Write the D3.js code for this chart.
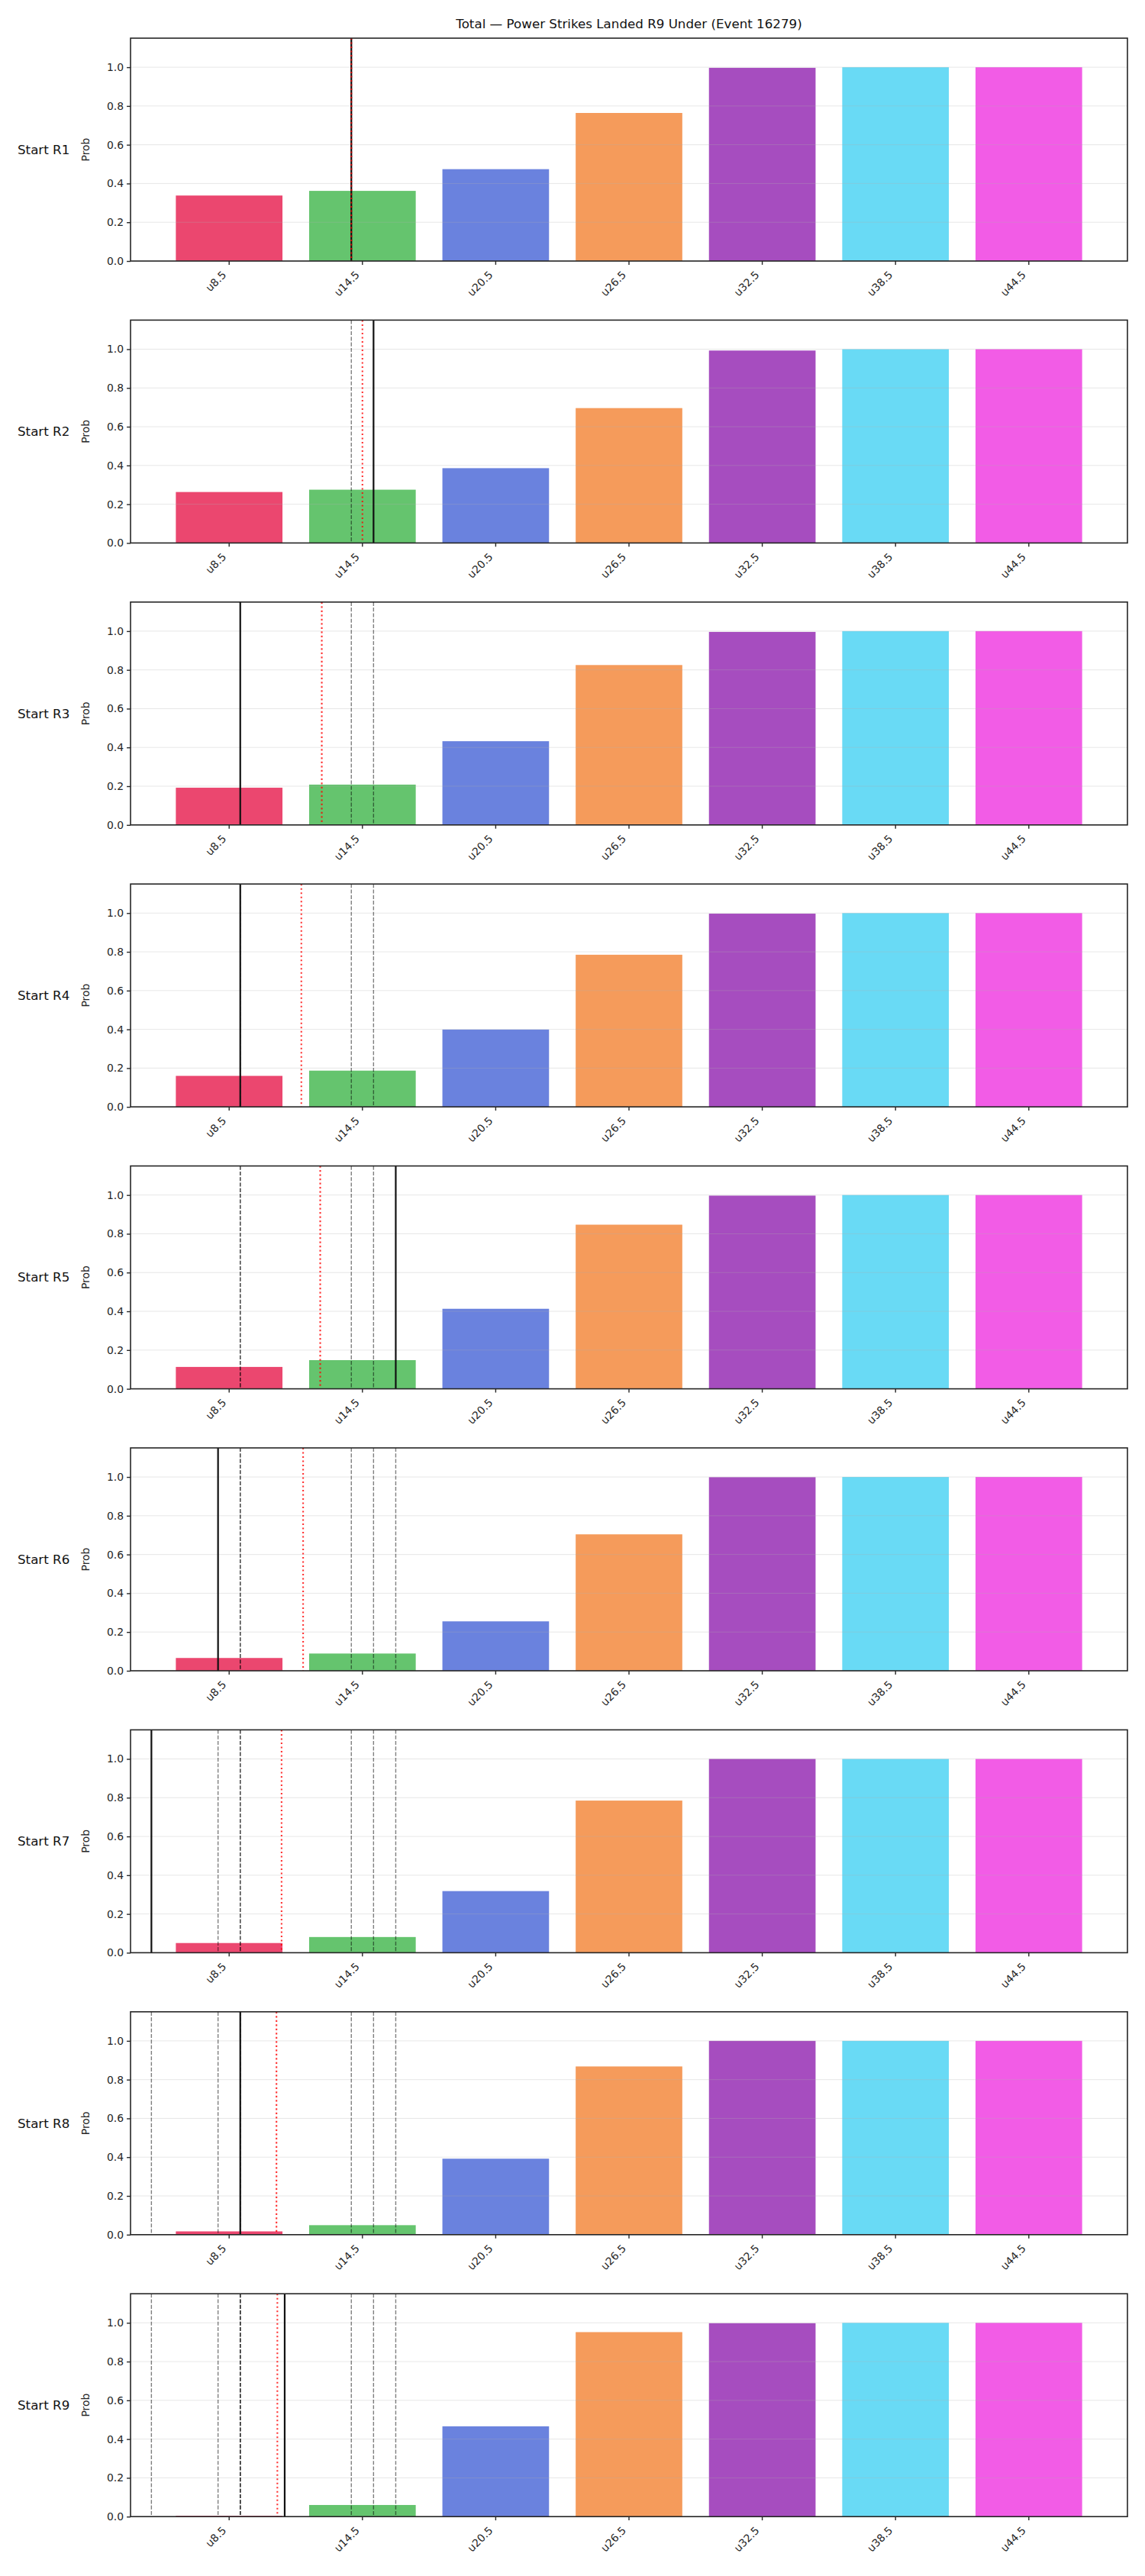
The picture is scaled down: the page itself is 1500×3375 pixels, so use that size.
<!DOCTYPE html>
<html>
<head>
<meta charset="utf-8">
<script src="https://cdn.jsdelivr.net/npm/d3@7"></script>
<style>
  body { margin: 0; background: #fff; }
  svg { display: block; font-family: "DejaVu Sans", sans-serif; }
</style>
</head>
<body>
<div id="chart"></div>
<script>
// chart data
const title = "Total \u2014 Power Strikes Landed R9 Under (Event 16279)";
const categories = ["u8.5", "u14.5", "u20.5", "u26.5", "u32.5", "u38.5", "u44.5"];
const lineValues = [8.5, 14.5, 20.5, 26.5, 32.5, 38.5, 44.5];
const rounds = ["Start R1", "Start R2", "Start R3", "Start R4", "Start R5", "Start R6", "Start R7", "Start R8", "Start R9"];
const yTicks = [0, 0.2, 0.4, 0.6, 0.8, 1.0];

// strikes landed per round (solid black line; earlier rounds show as dashed)
const roundStrikes = [14, 15, 9, 9, 16, 8, 5, 9, 11];
// running average (red dotted line)
const runningAvg = [14, 14.5, 12.67, 11.75, 12.6, 11.83, 10.86, 10.63, 10.67];

// probability for each under line, one row per round
const probR1 = [0.338, 0.362, 0.474, 0.764, 0.997, 1.0, 1.0];
const probR2 = [0.263, 0.275, 0.386, 0.696, 0.993, 1.0, 1.0];
const probR3 = [0.192, 0.208, 0.432, 0.825, 0.996, 1.0, 1.0];
const probR4 = [0.160, 0.187, 0.399, 0.785, 0.997, 1.0, 1.0];
const probR5 = [0.113, 0.148, 0.413, 0.847, 0.997, 1.0, 1.0];
const probR6 = [0.066, 0.089, 0.255, 0.704, 0.999, 1.0, 1.0];
const probR7 = [0.050, 0.081, 0.318, 0.785, 1.0, 1.0, 1.0];
const probR8 = [0.017, 0.049, 0.392, 0.868, 1.0, 1.0, 1.0];
const probR9 = [0.004, 0.060, 0.466, 0.952, 0.998, 1.0, 1.0];
const probs = [probR1, probR2, probR3, probR4, probR5, probR6, probR7, probR8, probR9];

const barColors = ["#eb476f", "#65c46e", "#6a82de", "#f59b5b", "#a64dbf", "#69daf5", "#f25ce6"];

// layout
const width = 1500, height = 3375;
const plotLeft = 171, plotRight = 1477;
const firstTop = 50, panelStep = 369.4, panelH = 292;
const plotW = plotRight - plotLeft;

const svg = d3.select("#chart").append("svg")
  .attr("width", width)
  .attr("height", height);

svg.append("rect").attr("width", width).attr("height", height).attr("fill", "#fff");

svg.append("text")
  .attr("x", plotLeft + plotW / 2)
  .attr("y", 37)
  .attr("text-anchor", "middle")
  .style("font-size", "16.7px")
  .style("fill", "#111")
  .text(title);

const x = d3.scaleBand()
  .domain(categories)
  .range([0, plotW])
  .paddingInner(0.2)
  .paddingOuter(0.34);

// strike counts sit on the same axis as the under lines
const xv = d3.scaleLinear()
  .domain([lineValues[0], lineValues[lineValues.length - 1]])
  .range([x(categories[0]) + x.bandwidth() / 2, x(categories[categories.length - 1]) + x.bandwidth() / 2]);

const y = d3.scaleLinear().domain([0, 1.15]).range([panelH, 0]);

rounds.forEach((label, r) => {
  const g = svg.append("g")
    .attr("class", "panel")
    .attr("transform", `translate(${plotLeft}, ${firstTop + r * panelStep})`);

  // bars
  g.selectAll("rect.bar")
    .data(probs[r])
    .enter()
    .append("rect")
    .attr("class", "bar")
    .attr("x", (d, i) => x(categories[i]))
    .attr("width", x.bandwidth())
    .attr("y", d => y(d))
    .attr("height", d => y(0) - y(d))
    .style("fill", (d, i) => barColors[i]);

  // grid on top, light
  g.selectAll("line.grid")
    .data(yTicks)
    .enter()
    .append("line")
    .attr("class", "grid")
    .attr("x1", 0).attr("x2", plotW)
    .attr("y1", d => y(d)).attr("y2", d => y(d))
    .style("stroke", "#b0b0b0")
    .style("stroke-opacity", 0.3)
    .style("stroke-width", 1);

  const clip = g.append("g");

  // previous rounds
  clip.selectAll("line.prev")
    .data(roundStrikes.slice(0, r))
    .enter()
    .append("line")
    .attr("class", "prev")
    .attr("x1", d => xv(d)).attr("x2", d => xv(d))
    .attr("y1", 0).attr("y2", panelH)
    .style("stroke", "#000")
    .style("stroke-opacity", 0.5)
    .style("stroke-width", 1.4)
    .style("stroke-dasharray", "5.1,2.2");

  // current round
  clip.append("line")
    .attr("x1", xv(roundStrikes[r])).attr("x2", xv(roundStrikes[r]))
    .attr("y1", 0).attr("y2", panelH)
    .style("stroke", "#111")
    .style("stroke-width", 2.2);

  // running average
  clip.append("line")
    .attr("x1", xv(runningAvg[r])).attr("x2", xv(runningAvg[r]))
    .attr("y1", 0).attr("y2", panelH)
    .style("stroke", "red")
    .style("stroke-opacity", 0.8)
    .style("stroke-width", 2.1)
    .style("stroke-dasharray", "2.1,3.4");

  // axes
  const yAxis = g.append("g")
    .call(d3.axisLeft(y).tickValues(yTicks).tickFormat(d3.format(".1f")).tickSize(4.9).tickPadding(4));
  yAxis.select(".domain").remove();
  yAxis.selectAll("line").style("stroke", "#262626").style("stroke-width", 1.4);
  yAxis.selectAll("text").style("font-size", "13.9px").style("fill", "#262626").style("font-family", "DejaVu Sans");

  const xAxis = g.append("g")
    .attr("transform", `translate(0, ${panelH})`)
    .call(d3.axisBottom(x).tickSize(4.9));
  xAxis.select(".domain").remove();
  xAxis.selectAll("line").style("stroke", "#262626").style("stroke-width", 1.4);
  xAxis.selectAll("text")
    .attr("y", 0).attr("x", 0).attr("dy", null)
    .attr("text-anchor", "end")
    .attr("transform", "translate(-3, 19) rotate(-45)")
    .style("font-size", "13.9px")
    .style("fill", "#262626")
    .style("font-family", "DejaVu Sans");

  // frame
  g.append("rect")
    .attr("width", plotW)
    .attr("height", panelH)
    .style("fill", "none")
    .style("stroke", "#262626")
    .style("stroke-width", 1.6);

  // labels
  g.append("text")
    .attr("transform", `translate(-54, ${panelH / 2}) rotate(-90)`)
    .attr("text-anchor", "middle")
    .style("font-size", "13.9px")
    .style("fill", "#262626")
    .text("Prob");

  g.append("text")
    .attr("x", 23 - plotLeft)
    .attr("y", panelH / 2)
    .attr("dy", "0.35em")
    .style("font-size", "16.7px")
    .style("fill", "#111")
    .text(label);
});
</script>
</body>
</html>
